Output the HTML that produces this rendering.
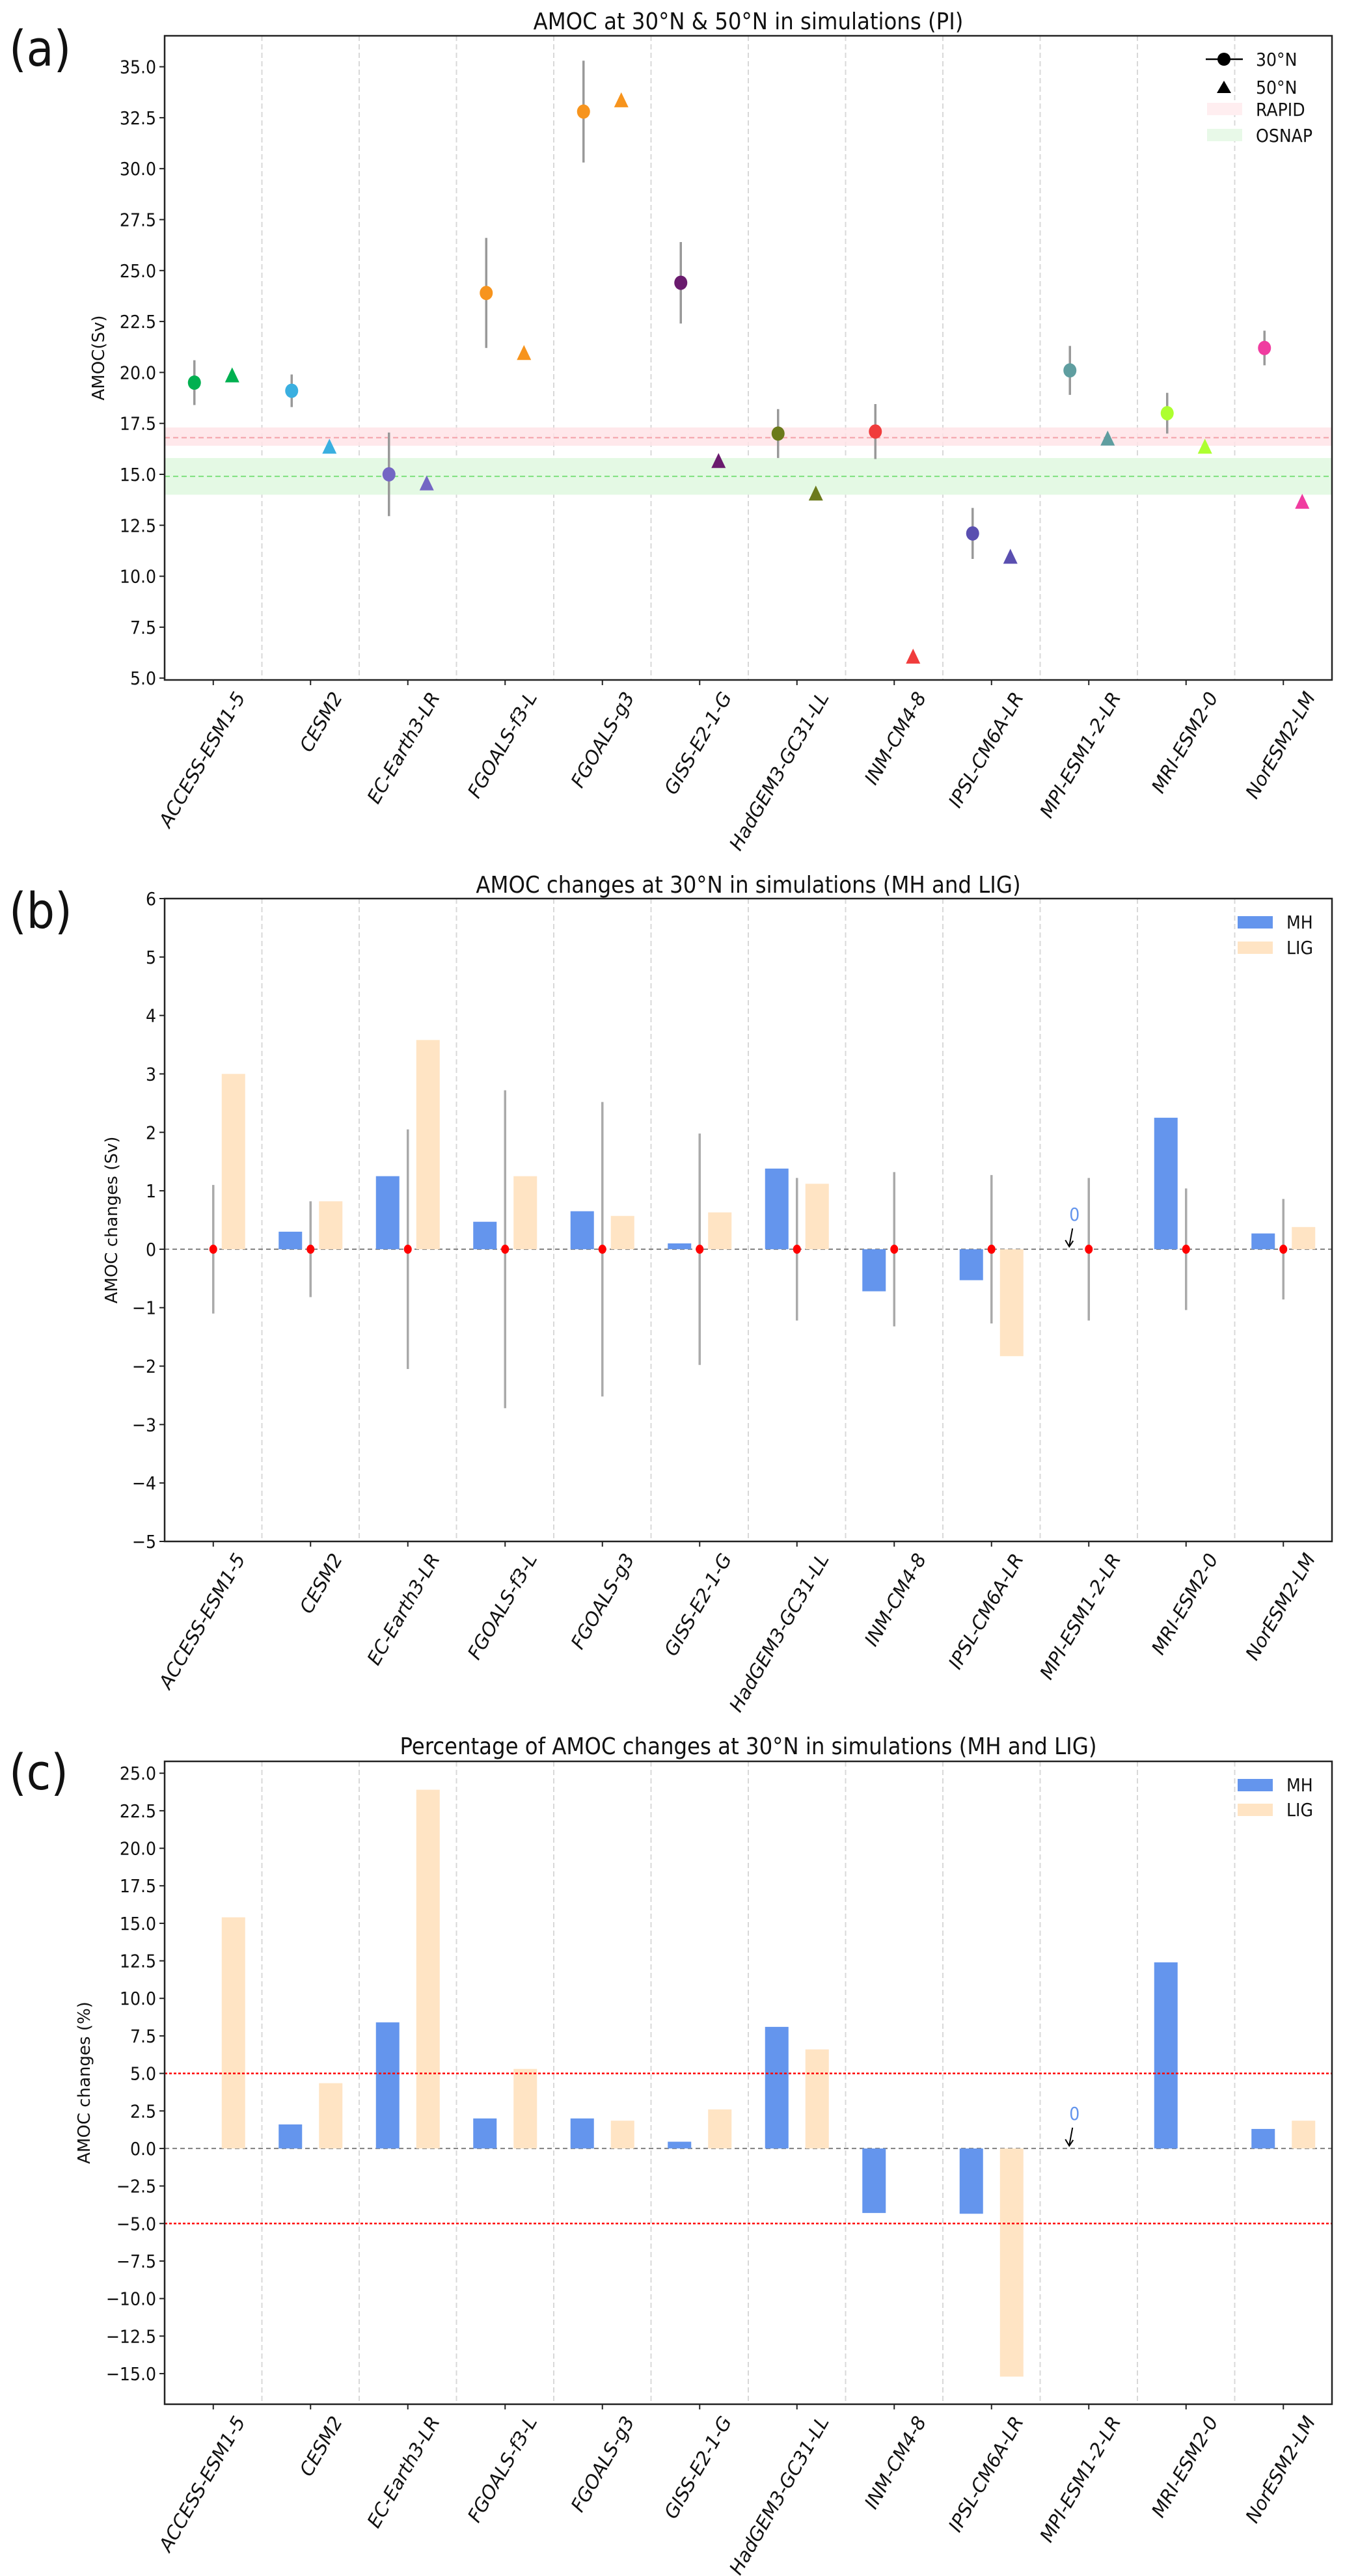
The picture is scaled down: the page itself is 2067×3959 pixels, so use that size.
<!DOCTYPE html>
<html><head><meta charset="utf-8"><style>
html,body{margin:0;padding:0;background:#fff;}
svg{display:block;}
text{font-family:"DejaVu Sans Condensed","Liberation Sans Narrow","Liberation Sans",sans-serif;fill:#111;}
.cat{font-family:"DejaVu Sans","Liberation Sans",sans-serif;font-style:oblique;font-size:29px;}
.ylab{font-family:"DejaVu Sans","Liberation Sans",sans-serif;font-size:26px;}
</style></head><body>
<svg id="fig" width="2067" height="3959" viewBox="0 0 2067 3959" xmlns="http://www.w3.org/2000/svg"></svg>
<script>
const models = ["ACCESS-ESM1-5","CESM2","EC-Earth3-LR","FGOALS-f3-L","FGOALS-g3","GISS-E2-1-G","HadGEM3-GC31-LL","INM-CM4-8","IPSL-CM6A-LR","MPI-ESM1-2-LR","MRI-ESM2-0","NorESM2-LM"];
const colors = ["#00b050","#3aafe0","#7466c4","#f7941d","#f7941d","#6a1b6e","#6b7a1b","#f03c3c","#5a4fb0","#5f9ea0","#adff2f","#f03ca0"];
const amoc30 = [19.5,19.1,15.0,23.9,32.8,24.4,17.0,17.1,12.1,20.1,18.0,21.2];
const amoc30Err = [1.1,0.8,2.05,2.7,2.5,2.0,1.2,1.35,1.25,1.2,1.0,0.85];
const amoc50 = [19.8,16.3,14.5,20.9,33.3,15.6,14.0,6.0,10.9,16.7,16.3,13.6];
const rapid = [16.4,16.8,17.3];
const osnap = [14.0,14.9,15.8];
const ticksA = [5.0,7.5,10.0,12.5,15.0,17.5,20.0,22.5,25.0,27.5,30.0,32.5,35.0];
const mhSv = [0,0.3,1.25,0.47,0.65,0.1,1.38,-0.72,-0.53,0,2.25,0.27];
const ligSv = [3.0,0.82,3.58,1.25,0.57,0.63,1.12,0,-1.83,0,0,0.38];
const errSv = [1.1,0.82,2.05,2.72,2.52,1.98,1.22,1.32,1.27,1.22,1.04,0.86];
const ticksB = [-5,-4,-3,-2,-1,0,1,2,3,4,5,6];
const mhPct = [0,1.6,8.4,2.0,2.0,0.45,8.1,-4.3,-4.35,0,12.4,1.3];
const ligPct = [15.4,4.35,23.9,5.3,1.85,2.6,6.6,0,-15.2,0,0,1.85];
const ticksC = [-15.0,-12.5,-10.0,-7.5,-5.0,-2.5,0.0,2.5,5.0,7.5,10.0,12.5,15.0,17.5,20.0,22.5,25.0];
const thresholdPct = [-5,5];

const NS="http://www.w3.org/2000/svg";
const svg=document.getElementById('fig');
function mk(tag,attrs,parent){const e=document.createElementNS(NS,tag);for(const k in attrs)e.setAttribute(k,attrs[k]);(parent||svg).appendChild(e);return e;}
const L=253,R=2047,STEP=(R-L)/12;
function xc(i){return L+(i+0.5)*STEP;}

function axes(top,bottom,ymin,ymax,ticks,fmt,title,titleY,ylabel,ylabX,panel,panelY,pname){
  const g=mk('g',{});
  
  
  const y=v=>bottom-(v-ymin)/(ymax-ymin)*(bottom-top);
  for(let i=0;i<11;i++){const gl=mk('line',{x1:L+(i+1)*STEP,x2:L+(i+1)*STEP,y1:top,y2:bottom,stroke:'#d8d8d8','stroke-width':2,'stroke-dasharray':'8,5'},g);
    }
  ticks.forEach(t=>{const ty=y(t);
    mk('line',{x1:L-8,x2:L,y1:ty,y2:ty,stroke:'#222','stroke-width':2},g);
    const tl=mk('text',{x:L-13,y:ty+10,'text-anchor':'end','font-size':28},g);tl.textContent=fmt(t).replace('-','\u2212');
    });
  models.forEach((m,i)=>{const x=xc(i);
    mk('line',{x1:x,x2:x,y1:bottom,y2:bottom+8,stroke:'#222','stroke-width':2},g);
    const ax=x+50,ay=bottom+26;
    const tl=mk('text',{class:'cat',x:ax,y:ay,'text-anchor':'end',transform:`rotate(-60 ${ax} ${ay})`},g);tl.textContent=m;
    });
  const tt=mk('text',{x:(L+R)/2,y:titleY+12,'text-anchor':'middle','font-size':36},g);tt.textContent=title;
  
  const cy=(top+bottom)/2;
  const yl=mk('text',{class:'ylab',x:ylabX,y:cy,'text-anchor':'middle',transform:`rotate(-90 ${ylabX} ${cy})`},g);yl.textContent=ylabel;
  
  const pl=mk('text',{x:14,y:panelY+26,'font-size':76,'font-family':'Liberation Sans, sans-serif'},g);pl.textContent=panel;
  
  return {g,y,top,bottom};
}
function frame(g,top,bottom){const f=mk('rect',{x:L,y:top,width:R-L,height:bottom-top,fill:'none',stroke:'#222','stroke-width':2.5},g);
  }

/* Panel a */
{
 const A=axes(55,1045,4.91,36.52,ticksA,v=>v.toFixed(1),'AMOC at 30\u00b0N & 50\u00b0N in simulations (PI)',33,'AMOC(Sv)',160,'(a)',75,'panel-a');
 const g=A.g,y=A.y;
 const rb=mk('rect',{x:L,y:y(rapid[2]),width:R-L,height:y(rapid[0])-y(rapid[2]),fill:'#ffe4e8',opacity:0.85},g);
 
 const rl=mk('line',{x1:L,x2:R,y1:y(rapid[1]),y2:y(rapid[1]),stroke:'#f4a0a8','stroke-width':2,'stroke-dasharray':'8,5'},g);
 
 const ob=mk('rect',{x:L,y:y(osnap[2]),width:R-L,height:y(osnap[0])-y(osnap[2]),fill:'#e4f9e4'},g);
 
 const ol=mk('line',{x1:L,x2:R,y1:y(osnap[1]),y2:y(osnap[1]),stroke:'#7ee07e','stroke-width':2,'stroke-dasharray':'8,5'},g);
 
 models.forEach((m,i)=>{
  const x=xc(i)-29;
  const eb=mk('line',{x1:x,x2:x,y1:y(amoc30[i]+amoc30Err[i]),y2:y(amoc30[i]-amoc30Err[i]),stroke:'#999','stroke-width':3.5},g);
  
  const c=mk('ellipse',{cx:x,cy:y(amoc30[i]),rx:10,ry:11,fill:colors[i]},g);
  
  const tx=xc(i)+29,ty=y(amoc50[i]);
  const t=mk('polygon',{points:`${tx},${ty-14} ${tx-11},${ty+9} ${tx+11},${ty+9}`,fill:colors[i]},g);
  
 });
 frame(g,55,1045);
 const lg=mk('g',{},g);
 mk('line',{x1:1853,x2:1910,y1:91,y2:91,stroke:'#000','stroke-width':2.5},lg);
 mk('circle',{cx:1881,cy:91,r:10,fill:'#000'},lg);
 mk('polygon',{points:'1881,124 1870,143 1892,143',fill:'#000'},lg);
 mk('rect',{x:1855,y:158,width:54,height:19,fill:'#ffeef0'},lg);
 mk('rect',{x:1855,y:198,width:54,height:19,fill:'#e8f9e8'},lg);
 [['30\u00b0N',91],['50\u00b0N',134],['RAPID',168],['OSNAP',208]].forEach(([s,yy])=>{const t=mk('text',{x:1930,y:yy+10,'font-size':28},lg);t.textContent=s;
   });
}

function barPanel(A,mh,lig,err){
 const g=A.g,y=A.y;
 const z=mk('line',{x1:L,x2:R,y1:y(0),y2:y(0),stroke:'#808080','stroke-width':2,'stroke-dasharray':'7,5'},g);
 
 models.forEach((m,i)=>{
  const x=xc(i);
  if(mh[i]!==0){const b=mk('rect',{x:x-49,y:Math.min(y(0),y(mh[i])),width:36,height:Math.abs(y(mh[i])-y(0)),fill:'#6495ed'},g);
   }
  if(lig[i]!==0){const b=mk('rect',{x:x+13,y:Math.min(y(0),y(lig[i])),width:36,height:Math.abs(y(lig[i])-y(0)),fill:'#ffe4c4'},g);
   }
  if(err){
   const e=mk('line',{x1:x,x2:x,y1:y(err[i]),y2:y(-err[i]),stroke:'#aaa','stroke-width':3.5},g);
   
   const d=mk('ellipse',{cx:x,cy:y(0),rx:6,ry:7,fill:'#ff0000'},g);
   
  }
 });
}
function zeroNote(g,y0){
 const x=xc(9);
 const t=mk('text',{x:x-22,y:y0-44,'text-anchor':'middle','font-size':28,fill:'#6495ed',style:'fill:#6495ed'},g);t.textContent='0';
 
 const a=mk('path',{d:`M${x-25},${y0-32} L${x-30},${y0-5} M${x-36},${y0-14} L${x-30},${y0-4} L${x-24},${y0-13}`,stroke:'#000','stroke-width':2,fill:'none'},g);
 
}
function barLegend(g,y1,y2){
 const lg=mk('g',{},g);
 mk('rect',{x:1902,y:y1-9,width:54,height:19,fill:'#6495ed'},lg);
 mk('rect',{x:1902,y:y2-9,width:54,height:19,fill:'#ffe4c4'},lg);
 [['MH',y1],['LIG',y2]].forEach(([s,yy])=>{const t=mk('text',{x:1977,y:yy+10,'font-size':28},lg);t.textContent=s;
   });
}

/* Panel b */
{
 const A=axes(1381,2369,-5,6,ticksB,v=>String(v),'AMOC changes at 30\u00b0N in simulations (MH and LIG)',1360,'AMOC changes (Sv)',180,'(b)',1400,'panel-b');
 barPanel(A,mhSv,ligSv,errSv);
 zeroNote(A.g,A.y(0));
 frame(A.g,1381,2369);
 barLegend(A.g,1417,1456);
}
/* Panel c */
{
 const A=axes(2707,3695,-17.04,25.79,ticksC,v=>v.toFixed(1),'Percentage of AMOC changes at 30\u00b0N in simulations (MH and LIG)',2684,'AMOC changes (%)',138,'(c)',2724,'panel-c');
 barPanel(A,mhPct,ligPct,null);
 thresholdPct.forEach(v=>{const l=mk('line',{x1:L,x2:R,y1:A.y(v),y2:A.y(v),stroke:'#ff0000','stroke-width':2.5,'stroke-dasharray':'4,3'},A.g);
   });
 zeroNote(A.g,A.y(0));
 frame(A.g,2707,3695);
 barLegend(A.g,2743,2781);
}
</script>
</body></html>
